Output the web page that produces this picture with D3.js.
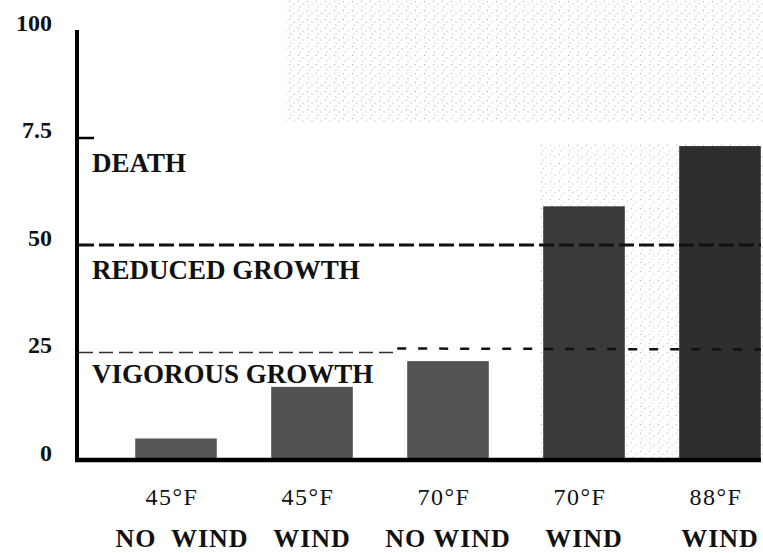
<!DOCTYPE html>
<html>
<head>
<meta charset="utf-8">
<script src="https://cdn.jsdelivr.net/npm/d3@7"></script>
<style>
  body { margin: 0; background: #fff; }
  svg { display: block; }
  svg text { font-family: "Liberation Serif", "Times New Roman", serif; }
</style>
</head>
<body>
<svg id="chart" width="763" height="553"></svg>
<script>
'use strict';

// data
var temps = ["45°F", "45°F", "70°F", "70°F", "88°F"],
    winds = ["NO  WIND", "WIND", "NO WIND", "WIND", "WIND"],
    values = [5, 17, 23, 59, 73],
    barShades = ["#565656", "#525252", "#545454", "#3a3a3a", "#2e2e2e"],
    tickValues = [0, 25, 50, 75, 100],
    tickLabels = ["0", "25", "50", "7.5", "100"],
    zoneNames = ["DEATH", "REDUCED GROWTH", "VIGOROUS GROWTH"],
    zoneLabelAt = [67, 42, 18],
    thresholds = [50, 25];

var svg = d3.select("#chart"),
    plotLeft = 77, plotRight = 761, plotTop = 30, plotBottom = 460;

var x = d3.scaleBand()
    .domain(d3.range(values.length))
    .range([108, 788])
    .paddingInner(0.4)
    .paddingOuter(0.2);

var y = d3.scaleLinear()
    .domain([0, 100])
    .range([plotBottom, plotTop]);

// stipple texture like the scanned halftone
var defs = svg.append("defs");
var pat = defs.append("pattern")
    .attr("id", "stipple")
    .attr("patternUnits", "userSpaceOnUse")
    .attr("width", 9).attr("height", 9);
[[1, 1], [5.5, 3.5], [2.5, 6.5]].forEach(function(p) {
    pat.append("rect").attr("x", p[0]).attr("y", p[1])
        .attr("width", 1).attr("height", 1).attr("fill", "#a0a0a0");
});

var shade = svg.append("g").attr("class", "shade");
shade.append("rect")
    .attr("x", 285).attr("y", 0)
    .attr("width", 763 - 285).attr("height", y(78.5))
    .attr("fill", "url(#stipple)").attr("opacity", 0.9);
shade.append("rect")
    .attr("x", x(3) - 3).attr("y", y(73.5))
    .attr("width", 763 - x(3) + 3).attr("height", y(0) - y(73.5))
    .attr("fill", "url(#stipple)").attr("opacity", 0.8);

// bars
svg.append("g").selectAll("rect")
    .data(values)
    .join("rect")
    .attr("x", function(d, i) { return x(i); })
    .attr("y", function(d) { return y(d); })
    .attr("width", x.bandwidth())
    .attr("height", function(d) { return y(0) - y(d); })
    .attr("fill", function(d, i) { return barShades[i]; });

// threshold lines
svg.append("line")
    .attr("x1", plotLeft + 2).attr("x2", plotRight)
    .attr("y1", y(thresholds[0])).attr("y2", y(thresholds[0]))
    .style("stroke", "#111")
    .style("stroke-width", 3)
    .style("stroke-dasharray", "15 5");

svg.append("line")
    .attr("x1", plotLeft + 2).attr("x2", x(2) - 10)
    .attr("y1", y(thresholds[1])).attr("y2", y(thresholds[1]))
    .style("stroke", "#333")
    .style("stroke-width", 1.3)
    .style("stroke-dasharray", "14 6");

svg.append("line")
    .attr("x1", x(2) - 10).attr("x2", plotRight)
    .attr("y1", y(thresholds[1]) - 4).attr("y2", y(thresholds[1]) - 3)
    .style("stroke", "#111")
    .style("stroke-width", 2.5)
    .style("stroke-dasharray", "9 12");

// y axis
var yAxis = d3.axisLeft(y)
    .tickValues(tickValues)
    .tickFormat(function(d, i) { return tickLabels[i]; })
    .tickSize(-17)
    .tickSizeOuter(0);

var ya = svg.append("g")
    .attr("transform", "translate(" + plotLeft + ",0)")
    .call(yAxis);

ya.select(".domain")
    .attr("d", "M0," + (plotBottom + 2) + "V" + plotTop)
    .style("stroke", "#000")
    .style("stroke-width", 4);

ya.selectAll(".tick line")
    .style("stroke", "#000")
    .style("stroke-width", 2.5)
    .style("display", function(d) { return d === 75 ? null : "none"; });

ya.selectAll(".tick text")
    .attr("x", -25)
    .attr("dy", "0.02em")
    .style("font-size", "24px")
    .style("font-weight", "bold")
    .style("fill", "#111");

// baseline
svg.append("line")
    .attr("x1", plotLeft - 2).attr("x2", plotRight)
    .attr("y1", y(0)).attr("y2", y(0))
    .style("stroke", "#000")
    .style("stroke-width", 4.5);

// zone labels
svg.append("g").selectAll("text")
    .data(zoneNames)
    .join("text")
    .attr("x", 92)
    .attr("y", function(d, i) { return y(zoneLabelAt[i]); })
    .attr("xml:space", "preserve")
    .style("font-size", "27px")
    .style("font-weight", "bold")
    .style("fill", "#111")
    .text(function(d) { return d; });

// category labels
svg.append("g").selectAll("text")
    .data(temps)
    .join("text")
    .attr("x", function(d, i) { return x(i) + x.bandwidth() / 2 - 4; })
    .attr("y", 505)
    .attr("text-anchor", "middle")
    .style("font-size", "24px")
    .style("letter-spacing", "1.5px")
    .style("fill", "#111")
    .text(function(d) { return d; });

svg.append("g").selectAll("text")
    .data(winds)
    .join("text")
    .attr("x", function(d, i) { return x(i) + x.bandwidth() / 2 + (i === 0 ? 6 : 0); })
    .attr("y", 547)
    .attr("text-anchor", "middle")
    .attr("xml:space", "preserve")
    .style("font-size", "26px")
    .style("font-weight", "bold")
    .style("letter-spacing", "1px")
    .style("fill", "#111")
    .text(function(d) { return d; });
</script>
</body>
</html>
